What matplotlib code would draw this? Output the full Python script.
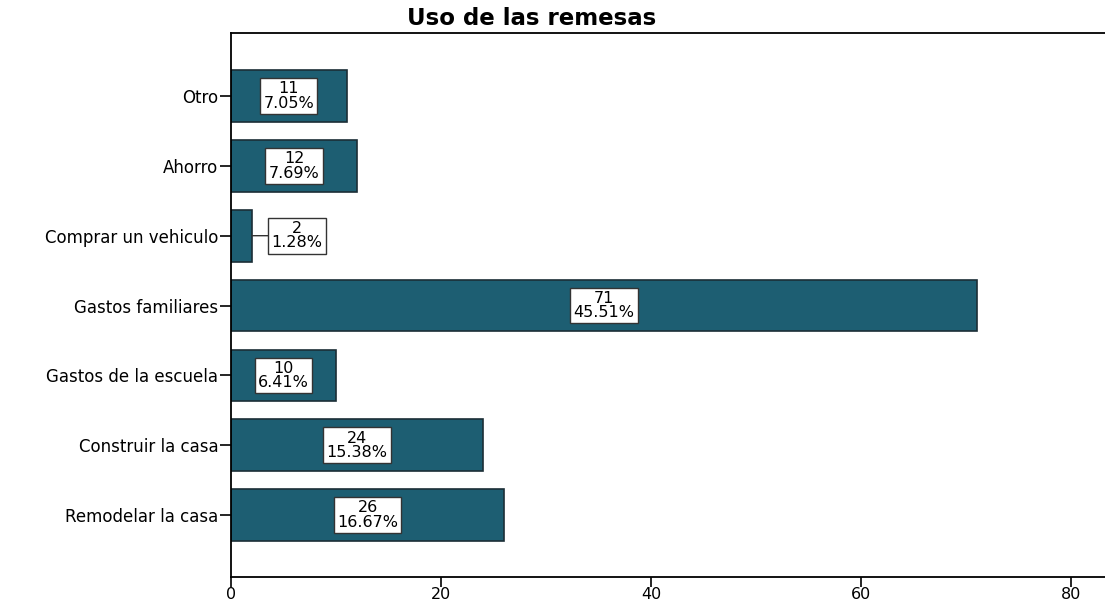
import matplotlib.pyplot as plt

categories = ['Remodelar la casa', 'Construir la casa', 'Gastos de la escuela',
              'Gastos familiares', 'Comprar un vehiculo', 'Ahorro', 'Otro']
counts = [26, 24, 10, 71, 2, 12, 11]
percents = ['16.67%', '15.38%', '6.41%', '45.51%', '1.28%', '7.69%', '7.05%']

fig = plt.figure(figsize=(11.05, 6.02), dpi=100)
ax = fig.add_axes([0.209, 0.0415, 0.791, 0.9035])

pos = list(range(len(categories)))
ax.barh(pos, counts, height=0.74, color='#1d5e72', edgecolor='#1b2e36', linewidth=1.2)

box = dict(boxstyle='square,pad=0.2', facecolor='white', edgecolor='#333333', linewidth=1)
for y, c, p in zip(pos, counts, percents):
    txt = '%d\n%s' % (c, p)
    if c < 5:
        ax.annotate(txt, xy=(c, y), xytext=(c + 4.3, y), ha='center', va='center',
                    fontsize=11.5, linespacing=0.95, bbox=box,
                    arrowprops=dict(arrowstyle='-', color='#333333', lw=1,
                                    shrinkA=0, shrinkB=0))
    else:
        ax.text(c / 2, y, txt, ha='center', va='center', fontsize=11.5,
                linespacing=0.95, bbox=box)

ax.set_xlim(0, 83.2)
ax.set_ylim(-0.886, 6.9)
ax.set_yticks(pos)
ax.set_yticklabels(categories)
ax.set_xticks([0, 20, 40, 60, 80])
ax.tick_params(axis='y', direction='out', length=8, width=1.2, labelsize=12, pad=1)
ax.tick_params(axis='x', direction='out', length=7, width=1.2, labelsize=11.5, pad=0)
ax.spines['right'].set_visible(False)
for s in ['left', 'top', 'bottom']:
    ax.spines[s].set_linewidth(1.3)

fig.text(0.481, 0.97, 'Uso de las remesas', ha='center', va='center',
         fontsize=16.5, fontweight='bold')

fig.savefig('out.png', dpi=100)
